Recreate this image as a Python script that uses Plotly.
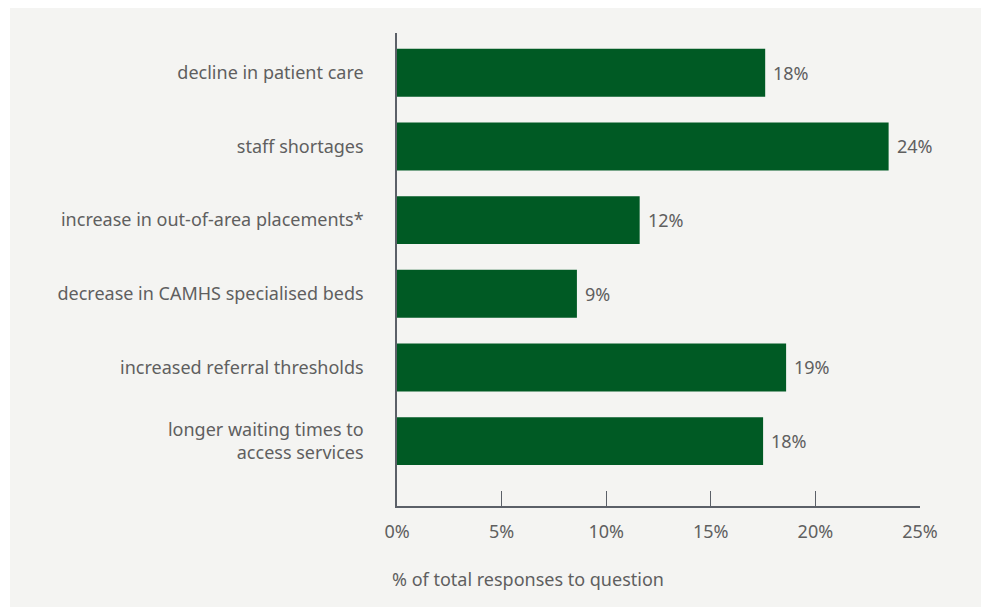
import plotly.graph_objects as go

# Survey results: share of responses per reported impact
categories = [
    "decline in patient care",
    "staff shortages",
    "increase in out-of-area placements*",
    "decrease in CAMHS specialised beds",
    "increased referral thresholds",
    "longer waiting times to<br>access services",
]
values = [17.6, 23.5, 11.6, 8.6, 18.6, 17.5]
x_ticks = [0, 5, 10, 15, 20, 25]
x_tick_labels = ["0%", "5%", "10%", "15%", "20%", "25%"]
x_title = "% of total responses to question"

BAR_COLOR = "#005a24"
PANEL = "#f4f4f2"
TEXT = "#5f5f5f"
AXIS = "#5b6068"
FONT = "Noto Sans"
SIZE = 18

fig = go.Figure(
    go.Bar(
        x=values,
        y=categories,
        orientation="h",
        marker=dict(color=BAR_COLOR, line=dict(width=0)),
        width=0.65,
        hoverinfo="skip",
    )
)

# value labels to the right of each bar
for cat, v in zip(categories, values):
    fig.add_annotation(
        x=v, y=cat, xref="x", yref="y",
        text=f"{v:.0f}%", showarrow=False,
        xanchor="left", yanchor="middle", xshift=6,
        font=dict(family=FONT, size=SIZE, color=TEXT),
    )

# axis title, left-aligned under the axis
fig.add_annotation(
    x=-0.014, y=-0.154, xref="paper", yref="paper",
    text=x_title, showarrow=False,
    xanchor="left", yanchor="middle",
    font=dict(family=FONT, size=SIZE, color=TEXT),
)

# light grey panel behind the chart
fig.add_shape(
    type="rect", xref="paper", yref="paper",
    x0=-0.74, x1=1.2, y0=-0.3, y1=1.053,
    fillcolor=PANEL, line=dict(width=0), layer="below",
)

fig.update_layout(
    width=981, height=607,
    margin=dict(l=397, r=61, t=33, b=101),
    paper_bgcolor="white",
    plot_bgcolor=PANEL,
    showlegend=False,
    font=dict(family=FONT, size=SIZE, color=TEXT),
    xaxis=dict(
        range=[0, 25],
        tickvals=x_ticks, ticktext=x_tick_labels,
        ticks="inside", ticklen=15, tickwidth=1.2, tickcolor=AXIS,
        showline=True, linecolor=AXIS, linewidth=1.5,
        showgrid=False, zeroline=False,
        ticklabelstandoff=9,
        tickfont=dict(family=FONT, size=SIZE, color=TEXT),
    ),
    yaxis=dict(
        categoryorder="array", categoryarray=categories,
        range=[5.88, -0.54],
        showline=True, linecolor=AXIS, linewidth=1.5,
        ticks="", showgrid=False, zeroline=False,
        ticklabelstandoff=28,
        tickfont=dict(family=FONT, size=SIZE, color=TEXT),
    ),
)

fig.write_html("out.html")
